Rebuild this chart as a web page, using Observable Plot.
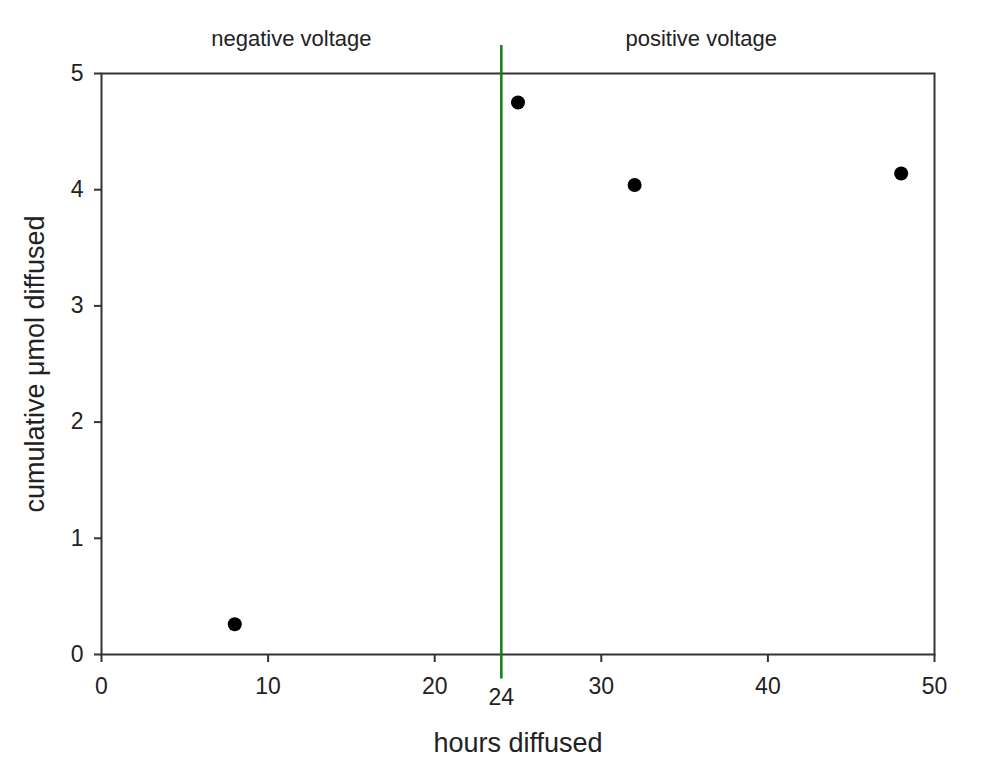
<!DOCTYPE html>
<html>
<head>
<meta charset="utf-8">
<script src="https://cdn.jsdelivr.net/npm/d3@7"></script>
<script src="https://cdn.jsdelivr.net/npm/@observablehq/plot@0.6"></script>
<style>
  body { margin: 0; background: #fff; }
  svg { font-family: "Liberation Sans", Arial, sans-serif; }
</style>
</head>
<body>
<div id="chart"></div>
<script>
const hours = [8, 25, 32, 48];
const cumulative = [0.26, 4.75, 4.04, 4.14];
const xTicks = [0, 10, 20, 30, 40, 50];
const yTicks = [0, 1, 2, 3, 4, 5];
const switchHour = 24;
const regionLabels = ["negative voltage", "positive voltage"];
const regionLabelX = [11.4, 36.0];
const xLabel = "hours diffused";
const yLabel = "cumulative \u03bcmol diffused";

const points = hours.map((h, i) => ({hours: h, value: cumulative[i]}));
const regions = regionLabels.map((t, i) => ({text: t, x: regionLabelX[i]}));

const chart = Plot.plot({
  width: 1000,
  height: 763,
  marginLeft: 101,
  marginRight: 66,
  marginTop: 73,
  marginBottom: 109,
  style: {fontFamily: "'Liberation Sans', Arial, sans-serif", background: "#fff"},
  x: {domain: [0, 50]},
  y: {domain: [0, 5]},
  marks: [
    Plot.frame({stroke: "#333", strokeWidth: 2}),
    Plot.axisX({ticks: xTicks, tickFormat: "d", tickSize: 8, tickPadding: 15, fontSize: 23, fill: "#222", stroke: "#333", strokeWidth: 2, label: null}),
    Plot.axisY({ticks: yTicks, tickFormat: "d", tickSize: 7, tickPadding: 11, fontSize: 23, fill: "#222", stroke: "#333", strokeWidth: 2, label: null}),
    Plot.ruleX([switchHour], {y1: -0.21, y2: 5.24, stroke: "#118011", strokeWidth: 2.5, clip: false}),
    Plot.text([switchHour], {x: d => d, y: -0.37, text: d => String(d), fontSize: 23, fill: "#222", clip: false}),
    Plot.dot(points, {x: "hours", y: "value", r: 7, fill: "#000", stroke: "none"}),
    Plot.text(regions, {x: "x", y: 5.30, text: "text", fontSize: 22, fill: "#222", clip: false}),
    Plot.text([xLabel], {frameAnchor: "bottom", dy: 97, text: d => d, fontSize: 27, fill: "#222"}),
    Plot.text([yLabel], {frameAnchor: "left", textAnchor: "middle", dx: -66, rotate: -90, text: d => d, fontSize: 27, fill: "#222"})
  ]
});
document.getElementById("chart").appendChild(chart);
</script>
</body>
</html>
